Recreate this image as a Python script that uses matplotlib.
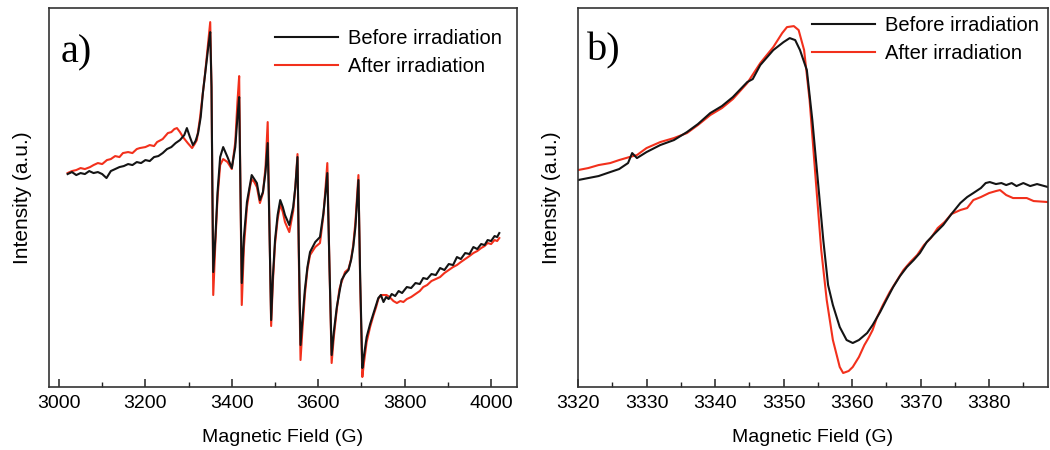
import matplotlib
matplotlib.use('Agg')
import matplotlib.pyplot as plt
from matplotlib.ticker import MultipleLocator

plt.rcParams['font.family'] = ['Liberation Sans', 'DejaVu Sans']

# ---- panel a) full spectrum (field in G, intensity in a.u.) ----
campo_a_antes = [3020, 3030, 3040, 3050, 3060, 3070, 3080, 3090, 3100, 3110, 3120, 3130,
                 3140, 3150, 3160, 3170, 3180, 3190, 3200, 3210, 3220, 3230, 3240, 3250,
                 3260, 3270, 3280, 3290, 3296, 3303, 3310, 3316, 3322, 3328, 3333, 3338,
                 3342, 3346, 3350, 3353, 3355, 3357, 3362, 3367, 3373, 3380, 3390, 3400,
                 3408, 3413, 3417, 3420, 3423, 3428, 3435, 3442, 3446, 3452, 3458, 3465,
                 3472, 3478, 3483, 3487, 3491, 3495, 3500, 3506, 3512, 3518, 3523, 3533,
                 3542, 3547, 3552, 3555, 3559, 3563, 3569, 3575, 3581, 3593, 3604, 3612,
                 3617, 3621, 3626, 3631, 3636, 3643, 3649, 3654, 3662, 3670, 3676, 3681,
                 3686, 3689, 3693, 3697, 3702, 3706, 3712, 3720, 3728, 3734, 3739, 3745,
                 3751, 3757, 3763, 3770, 3778, 3786, 3794, 3805, 3815, 3825, 3835, 3843,
                 3852, 3862, 3872, 3882, 3892, 3902, 3912, 3921, 3930, 3940, 3950, 3959,
                 3968, 3977, 3985, 3992, 4000, 4008, 4014, 4019]
int_a_antes = [213, 215, 212, 214, 213, 216, 214, 215, 213, 209, 216, 218,
               220, 221, 223, 222, 225, 224, 227, 226, 230, 231, 234, 238,
               240, 244, 247, 252, 259, 250, 242, 246, 254, 270, 294, 312,
               327, 342, 355, 300, 200, 115, 150, 195, 230, 240, 230, 219,
               240, 270, 290, 200, 104, 150, 185, 202, 212, 208, 204, 187,
               195, 215, 244, 160, 67, 110, 147, 172, 187, 180, 172, 162,
               180, 200, 230, 140, 42, 65, 97, 120, 135, 145, 150, 174,
               195, 214, 120, 32, 55, 80, 95, 107, 113, 117, 127, 140,
               160, 180, 207, 110, 19, 32, 50, 63, 74, 82, 89, 92,
               85, 90, 88, 93, 91, 96, 94, 100, 99, 104, 103, 109,
               108, 113, 112, 119, 117, 123, 122, 130, 128, 134, 133, 140,
               138, 143, 142, 147, 146, 151, 150, 154]

campo_a_despues = [3020, 3030, 3040, 3050, 3060, 3072, 3080, 3090, 3100, 3111, 3120, 3130,
                   3140, 3148, 3160, 3170, 3180, 3187, 3200, 3210, 3220, 3227, 3240, 3252,
                   3260, 3267, 3273, 3280, 3287, 3298, 3308, 3314, 3319, 3326, 3333, 3338,
                   3342, 3346, 3350, 3353, 3355, 3357, 3362, 3367, 3373, 3380, 3390, 3400,
                   3408, 3413, 3417, 3420, 3423, 3428, 3435, 3442, 3446, 3452, 3458, 3465,
                   3472, 3478, 3483, 3487, 3491, 3495, 3500, 3506, 3512, 3518, 3523, 3533,
                   3542, 3547, 3552, 3555, 3559, 3563, 3569, 3575, 3581, 3593, 3604, 3612,
                   3617, 3621, 3626, 3631, 3636, 3643, 3649, 3654, 3662, 3670, 3676, 3681,
                   3686, 3689, 3693, 3697, 3702, 3706, 3712, 3720, 3728, 3734, 3739, 3745,
                   3751, 3758, 3765, 3774, 3782, 3790, 3797, 3805, 3815, 3825, 3835, 3843,
                   3852, 3862, 3872, 3882, 3892, 3902, 3912, 3921, 3930, 3940, 3950, 3959,
                   3968, 3977, 3985, 3992, 4000, 4008, 4014, 4019]
int_a_despues = [214, 216, 217, 219, 218, 220, 222, 224, 223, 227, 228, 231,
                 230, 234, 235, 234, 238, 239, 240, 242, 241, 245, 248, 254,
                 255, 258, 259, 255, 250, 244, 239, 243, 247, 268, 294, 313,
                 330, 348, 365, 300, 190, 92, 145, 190, 222, 228, 225, 218,
                 245, 285, 311, 200, 82, 140, 180, 200, 208, 205, 200, 184,
                 194, 220, 265, 160, 61, 105, 143, 168, 183, 175, 165, 155,
                 176, 200, 233, 130, 27, 55, 92, 118, 132, 140, 144, 172,
                 200, 224, 120, 24, 50, 78, 98, 105, 115, 118, 128, 142,
                 165, 185, 212, 105, 10, 25, 45, 60, 72, 80, 88, 92,
                 92, 92, 90, 86, 84, 86, 85, 88, 90, 93, 96, 100,
                 102, 106, 108, 110, 114, 117, 120, 122, 125, 128, 131, 134,
                 136, 139, 141, 144, 143, 147, 146, 149]

# ---- panel b) zoom on the central line ----
campo_b_antes = [3320, 3321.5, 3323, 3324.7, 3326, 3327.3, 3327.9, 3328.6, 3330, 3332,
                 3334, 3335.9, 3337.5, 3339.3, 3341, 3342.6, 3344.7, 3345.5, 3346.6,
                 3348.5, 3350, 3350.9, 3351.7, 3352.4, 3353.4, 3354.2, 3355, 3355.8,
                 3356.5, 3357.2, 3358.2, 3359.2, 3360.1, 3361, 3362.2, 3363, 3364.1,
                 3365, 3366, 3367, 3368, 3369, 3369.9, 3370.9, 3372, 3373.3, 3374.5,
                 3375.8, 3376.8, 3377.7, 3378.8, 3379.5, 3380.1, 3381, 3381.8, 3382.5,
                 3383.3, 3384, 3385, 3386, 3387, 3388.6]
int_b_antes = [207, 209, 211, 215, 218, 224, 234, 229, 235, 242,
               247, 255, 263, 274, 281, 290, 305, 308, 322,
               337, 345, 349, 347, 337, 317, 267, 207, 147,
               102, 82, 60, 47, 44, 47, 54, 62, 75,
               87, 100, 111, 120, 127, 134, 145, 153, 162, 173,
               184, 190, 194, 199, 204, 205, 203, 204, 202,
               204, 201, 204, 201, 203, 200]

campo_b_despues = [3320, 3321.5, 3323, 3324.7, 3326, 3327.5, 3328.6, 3330, 3332, 3334,
                   3335.9, 3337.5, 3339.3, 3341, 3342.6, 3344.7, 3346.6, 3348.5, 3349.8,
                   3350.5, 3351.5, 3352.2, 3353, 3353.8, 3354.7, 3355.5, 3356.3, 3357.2,
                   3358.2, 3358.7, 3359.5, 3360.1, 3361, 3361.8, 3362.4, 3363, 3363.6,
                   3364.5, 3365.5, 3366.5, 3367.5, 3368.5, 3369.5, 3370.5, 3371.5, 3372.5,
                   3373.5, 3374.5, 3375.8, 3376.8, 3377.7, 3378.8, 3380, 3381, 3381.6,
                   3382.5, 3383.5, 3384.5, 3385.5, 3386.5, 3388.6]
int_b_despues = [217, 219, 222, 224, 227, 230, 232, 239, 245, 249,
                 254, 262, 272, 279, 288, 304, 324, 340, 354,
                 360, 361, 357, 337, 287, 207, 137, 87, 47,
                 20, 14, 16, 20, 30, 42, 49, 57, 69,
                 82, 95, 106, 117, 125, 132, 142, 149, 159,
                 165, 173, 177, 179, 187, 190, 194, 196, 197,
                 192, 189, 189, 189, 186, 185]

etiquetas = ['Before irradiation', 'After irradiation']
negro = '#141414'
rojo = '#f2301c'

fig = plt.figure(figsize=(10.5, 4.5), dpi=100)
ax1 = fig.add_axes([0.0467, 0.14, 0.4457, 0.842])
ax2 = fig.add_axes([0.5505, 0.14, 0.4476, 0.842])

paneles = [
    (ax1, campo_a_antes, int_a_antes, campo_a_despues, int_a_despues, (2977, 4060), 200, 100, 'a)', (0.024, 0.857), (0.483, 0.945)),
    (ax2, campo_b_antes, int_b_antes, campo_b_despues, int_b_despues, (3320, 3388.6), 10, 5, 'b)', (0.019, 0.863), (0.498, 0.98)),
]

for ax, xa, ya, xd, yd, lims, mayor, menor, letra, pos_letra, pos_ley in paneles:
    l_rojo, = ax.plot(xd, yd, color=rojo, lw=1.5)
    l_negro, = ax.plot(xa, ya, color=negro, lw=1.5)
    ax.set_xlim(*lims)
    ax.set_ylim(0, 379)
    ax.set_yticks([])
    ax.xaxis.set_major_locator(MultipleLocator(mayor))
    ax.xaxis.set_minor_locator(MultipleLocator(menor))
    ax.tick_params(axis='x', which='major', direction='in', length=6, width=1.1,
                   labelsize=14, pad=6, colors='#222222', labelcolor='black')
    ax.tick_params(axis='x', which='minor', direction='in', length=3.5, width=1.0, colors='#222222')
    for s in ax.spines.values():
        s.set_linewidth(1.2)
        s.set_color('#333333')
    ax.set_xlabel('Magnetic Field (G)', fontsize=14, labelpad=12)
    ax.set_ylabel('Intensity (a.u.)', fontsize=15, labelpad=12)
    ax.text(pos_letra[0], pos_letra[1], letra, transform=ax.transAxes,
            fontsize=29, family='Liberation Serif', va='baseline', ha='left')
    ax.legend([l_negro, l_rojo], etiquetas, loc='upper left', bbox_to_anchor=pos_ley,
              frameon=False, fontsize=14.5, handlelength=3.1, handletextpad=0.5,
              labelspacing=0.45, borderpad=0, borderaxespad=0)

fig.savefig('out.png', dpi=100)
